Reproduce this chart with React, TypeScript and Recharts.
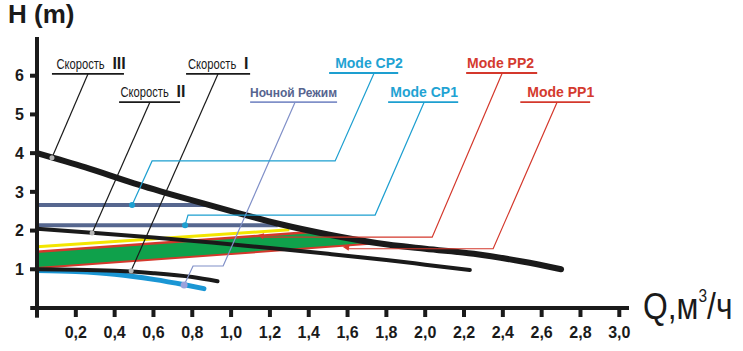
import {
  ComposedChart,
  Line,
  Area,
  XAxis,
  YAxis,
  ReferenceLine,
  ReferenceDot,
  Label,
} from "recharts";

// axis ticks
const xTicks = [0.2, 0.4, 0.6, 0.8, 1.0, 1.2, 1.4, 1.6, 1.8, 2.0, 2.2, 2.4, 2.6, 2.8, 3.0];
const yTicks = [1, 2, 3, 4, 5, 6];

// pump curves (Q m3/h, H m)
const speed3 = [
  { x: 0, y: 4.0 }, { x: 0.25, y: 3.63 }, { x: 0.5, y: 3.22 }, { x: 0.75, y: 2.85 },
  { x: 1.0, y: 2.5 }, { x: 1.25, y: 2.17 }, { x: 1.5, y: 1.9 }, { x: 1.75, y: 1.68 },
  { x: 2.0, y: 1.53 }, { x: 2.25, y: 1.4 }, { x: 2.5, y: 1.2 }, { x: 2.7, y: 1.0 },
];
const speed2 = [
  { x: 0, y: 2.05 }, { x: 0.3, y: 1.94 }, { x: 0.6, y: 1.82 }, { x: 0.9, y: 1.69 },
  { x: 1.2, y: 1.55 }, { x: 1.5, y: 1.4 }, { x: 1.8, y: 1.24 }, { x: 2.0, y: 1.12 },
  { x: 2.23, y: 0.98 },
];
const speed1 = [
  { x: 0, y: 1.0 }, { x: 0.2, y: 0.99 }, { x: 0.4, y: 0.96 }, { x: 0.6, y: 0.9 },
  { x: 0.8, y: 0.8 }, { x: 0.93, y: 0.69 },
];
const night = [
  { x: 0, y: 0.97 }, { x: 0.2, y: 0.94 }, { x: 0.4, y: 0.87 }, { x: 0.6, y: 0.74 },
  { x: 0.76, y: 0.6 }, { x: 0.86, y: 0.5 },
];
const cp2 = [{ x: 0, y: 2.66 }, { x: 0.88, y: 2.66 }];
const cp1 = [{ x: 0, y: 2.14 }, { x: 1.24, y: 2.14 }];
const yellowEdge = [{ x: 0, y: 1.58 }, { x: 1.3, y: 2.02 }];
const pp2 = [{ x: 0, y: 1.45 }, { x: 1.46, y: 1.98 }];
const pp1 = [{ x: 0, y: 1.03 }, { x: 1.75, y: 1.67 }];
const ppBand = [
  { x: 0, band: [1.03, 1.45] },
  { x: 1.46, band: [1.564, 1.98] },
  { x: 1.75, band: [1.67, 1.68] },
];

// callouts: underline from x0 to x1 at y, text starts at tx, leader polyline
const callouts = [
  { key: "s3", text: "Скорость", roman: "III", x0: 0.077, x1: 0.448, y: 6.05, tx: 0.1, color: "#1a1a1a", textColor: "#1a1a1a",
    leader: [{ x: 0.263, y: 6.05 }, { x: 0.077, y: 3.88 }], end: "grey" },
  { key: "s2", text: "Скорость", roman: "II", x0: 0.423, x1: 0.737, y: 5.32, tx: 0.43, color: "#1a1a1a", textColor: "#1a1a1a",
    leader: [{ x: 0.582, y: 5.32 }, { x: 0.284, y: 1.94 }], end: "grey" },
  { key: "s1", text: "Скорость", roman: "I", x0: 0.768, x1: 1.098, y: 6.05, tx: 0.778, color: "#1a1a1a", textColor: "#1a1a1a",
    leader: [{ x: 0.933, y: 6.05 }, { x: 0.485, y: 0.96 }], end: "grey" },
  { key: "night", text: "Ночной Режим", roman: "", x0: 1.098, x1: 1.546, y: 5.32, tx: 1.098, color: "#8090c8", textColor: "#56648f",
    leader: [{ x: 1.33, y: 5.32 }, { x: 0.959, y: 1.085 }, { x: 0.804, y: 1.085 }, { x: 0.758, y: 0.594 }], end: "violet" },
  { key: "cp2", text: "Mode CP2", roman: "", x0: 1.505, x1: 1.861, y: 6.07, tx: 1.536, color: "#1d9fd0", textColor: "#1fa3d3",
    leader: [{ x: 1.737, y: 6.07 }, { x: 1.536, y: 3.8 }, { x: 0.593, y: 3.8 }, { x: 0.49, y: 2.66 }], end: "cyan" },
  { key: "cp1", text: "Mode CP1", roman: "", x0: 1.809, x1: 2.17, y: 5.32, tx: 1.82, color: "#1d9fd0", textColor: "#1fa3d3",
    leader: [{ x: 1.995, y: 5.32 }, { x: 1.742, y: 2.4 }, { x: 0.778, y: 2.4 }, { x: 0.763, y: 2.14 }], end: "cyan" },
  { key: "pp2", text: "Mode PP2", roman: "", x0: 2.211, x1: 2.577, y: 6.07, tx: 2.216, color: "#d4382c", textColor: "#d43a2e",
    leader: [{ x: 2.397, y: 6.07 }, { x: 2.036, y: 1.83 }, { x: 1.16, y: 1.83 }], end: "arrow" },
  { key: "pp1", text: "Mode PP1", roman: "", x0: 2.49, x1: 2.85, y: 5.32, tx: 2.526, color: "#d4382c", textColor: "#d43a2e",
    leader: [{ x: 2.68, y: 5.32 }, { x: 2.35, y: 1.53 }, { x: 1.6, y: 1.53 }], end: "arrow" },
];

const sans = "'Liberation Sans', Arial, sans-serif";
const ink = "#1a1a1a";

const fmt = (v: number) => v.toFixed(1).replace(".", ",");

const endMark = (kind: string, color: string) => (p: any) => {
  const { cx, cy } = p;
  if (kind === "arrow") {
    return <path d={`M${cx - 5},${cy - 2} L${cx + 2},${cy - 4} L${cx + 1},${cy + 2} Z`} fill={color} />;
  }
  const fill = kind === "grey" ? "#b5b5b5" : kind === "violet" ? "#9aa2dc" : "#1d9fd0";
  const r = kind === "violet" ? 3.5 : kind === "cyan" ? 3 : 2.5;
  return <circle cx={cx} cy={cy} r={r} fill={fill} />;
};

const textMark = (c: (typeof callouts)[number]) => (p: any) => {
  if (c.roman) {
    // condensed caption, roman numeral in bold
    return (
      <g>
        <g transform={`translate(${p.cx},${p.cy - 5}) scale(0.8,1)`}>
          <text x={0} y={0} fill={c.textColor} fontFamily={sans} fontSize={14}>{c.text}</text>
        </g>
        <text x={p.cx + 56} y={p.cy - 5} fill={c.textColor} fontFamily={sans} fontSize={16} fontWeight={700}>
          {c.roman}
        </text>
      </g>
    );
  }
  return (
    <text x={p.cx} y={p.cy - 5} fill={c.textColor} fontFamily={sans} fontSize={c.key === "night" ? 12 : 14} fontWeight={700}>
      {c.text}
    </text>
  );
};

export default function App() {
  return (
    <div style={{ position: "absolute", left: 0, top: 0 }}>
      <ComposedChart
        width={743}
        height={351}
        margin={{ top: 37, right: 114, left: 17, bottom: 0 }}
        style={{ background: "#fff" }}
      >
        <XAxis
          type="number"
          dataKey="x"
          domain={[0, 3.05]}
          ticks={xTicks}
          interval={0}
          allowDataOverflow
          tickFormatter={fmt}
          height={43}
          tickSize={9}
          tickMargin={10}
          axisLine={{ stroke: ink, strokeWidth: 4 }}
          tickLine={{ stroke: ink, strokeWidth: 4 }}
          tick={{ fill: ink, fontSize: 16, fontWeight: 700, fontFamily: sans }}
        >
          <Label
            content={(p: any) => {
              const vb = p.viewBox;
              return (
                <g transform={`translate(${vb.x + vb.width + 14},${vb.y + 11}) scale(0.86,1)`}>
                  <text x={0} y={0} fill={ink} fontFamily={sans} fontSize={37}>
                    Q,м
                    <tspan fontSize={18} dy={-17}>3</tspan>
                    <tspan dy={17}>/ч</tspan>
                  </text>
                </g>
              );
            }}
          />
        </XAxis>
        <YAxis
          type="number"
          domain={[0, 7]}
          ticks={yTicks}
          width={20}
          allowDataOverflow
          tickSize={7}
          tickMargin={6}
          axisLine={{ stroke: ink, strokeWidth: 4 }}
          tickLine={{ stroke: ink, strokeWidth: 4 }}
          tick={{ fill: ink, fontSize: 16, fontWeight: 700, fontFamily: sans }}
        >
          <Label
            content={(p: any) => {
              const vb = p.viewBox;
              return (
                <text x={vb.x - 9} y={vb.y - 14} fill={ink} fontFamily={sans} fontSize={26} fontWeight={700}>
                  H (m)
                </text>
              );
            }}
          />
        </YAxis>

        {/* axis stubs past the origin */}
        <ReferenceLine segment={[{ x: -0.035, y: 0 }, { x: 0, y: 0 }]} stroke={ink} strokeWidth={4} ifOverflow="visible" />
        <ReferenceLine segment={[{ x: 0, y: 0 }, { x: 0, y: -0.25 }]} stroke={ink} strokeWidth={4} ifOverflow="visible" />

        <Area data={ppBand} dataKey="band" type="linear" stroke="none" fill="#0fa14b" fillOpacity={1} isAnimationActive={false} />
        <Line data={yellowEdge} dataKey="y" type="linear" stroke="#f3e600" strokeWidth={3} dot={false} isAnimationActive={false} />
        <Line data={pp2} dataKey="y" type="linear" stroke="#d4382c" strokeWidth={2.5} dot={false} isAnimationActive={false} />
        <Line data={pp1} dataKey="y" type="linear" stroke="#d4382c" strokeWidth={2} dot={false} isAnimationActive={false} />

        <Line data={cp2} dataKey="y" type="linear" stroke="#56678f" strokeWidth={4} dot={false} isAnimationActive={false} />
        <Line data={cp1} dataKey="y" type="linear" stroke="#56678f" strokeWidth={4} dot={false} isAnimationActive={false} />

        <Line data={night} dataKey="y" type="monotone" stroke="#1a96d4" strokeWidth={5} strokeLinecap="round" dot={false} isAnimationActive={false} />
        <Line data={speed1} dataKey="y" type="monotone" stroke={ink} strokeWidth={4} strokeLinecap="round" dot={false} isAnimationActive={false} />
        <Line data={speed2} dataKey="y" type="monotone" stroke={ink} strokeWidth={4} strokeLinecap="round" dot={false} isAnimationActive={false} />
        <Line data={speed3} dataKey="y" type="monotone" stroke={ink} strokeWidth={6} strokeLinecap="round" dot={false} isAnimationActive={false} />

        {callouts.map((c) => (
          <Line
            key={c.key}
            data={c.leader}
            dataKey="y"
            type="linear"
            stroke={c.color}
            strokeWidth={1.2}
            dot={false}
            isAnimationActive={false}
          />
        ))}
        {callouts.map((c) => (
          <ReferenceLine
            key={c.key + "-u"}
            segment={[{ x: c.x0, y: c.y }, { x: c.x1, y: c.y }]}
            stroke={c.color}
            strokeWidth={1.8}
            ifOverflow="visible"
          />
        ))}
        {callouts.map((c) => (
          <ReferenceDot
            key={c.key + "-t"}
            x={c.tx}
            y={c.y}
            r={1}
            ifOverflow="visible"
            shape={textMark(c)}
          />
        ))}
        {callouts.map((c) => {
          const last = c.leader[c.leader.length - 1];
          return (
            <ReferenceDot
              key={c.key + "-e"}
              x={last.x}
              y={last.y}
              r={3}
              ifOverflow="visible"
              shape={endMark(c.end, c.color)}
            />
          );
        })}
      </ComposedChart>
    </div>
  );
}
